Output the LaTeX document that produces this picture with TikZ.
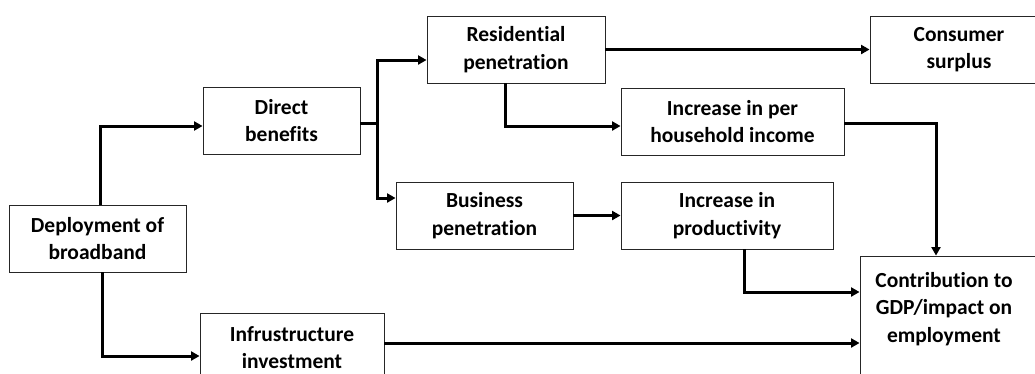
\documentclass[tikz,border=0pt]{standalone}
\usepackage{fontspec}
\setmainfont{Carlito}[Ligatures={NoCommon,NoContextual}]
\usetikzlibrary{arrows.meta}
\begin{document}
\begin{tikzpicture}[x=1pt,y=-1pt,
  box/.style={draw=black!85, line width=0.9pt, align=center, inner sep=0pt,
    font=\fontsize{21.5}{27.5}\selectfont\bfseries},
  arr/.style={line width=3pt, -{Triangle[length=8.5pt,width=9pt]}},
  lnk/.style={line width=3pt}]
\useasboundingbox[fill=white] (0,0) rectangle (1035,373);
\clip (0,0) rectangle (1035,373);

% boxes
\node[box, minimum width=177pt, minimum height=67pt] (dep) at (97.5,238.5) {Deployment of\\broadband};
\node[box, minimum width=157pt, minimum height=67pt] (dir) at (281.5,120.5) {Direct\\benefits};
\node[box, minimum width=178pt, minimum height=67pt] (res) at (516,49.5) {Residential\\penetration};
\node[box, minimum width=178pt, minimum height=67pt] (con) at (959,49.5) {Consumer\\surplus};
\node[box, minimum width=223pt, minimum height=67pt] (hh) at (732.5,121.5) {Increase in per\\household income};
\node[box, minimum width=177pt, minimum height=67pt] (bus) at (484.5,215.5) {Business\\penetration};
\node[box, minimum width=212pt, minimum height=67pt] (pro) at (727,215.5) {Increase in\\productivity};
\node[box, minimum width=184pt, minimum height=74pt] (inf) at (292,350) {};
\node[box, draw=none] (inftext) at (292,347.5) {Infrustructure\\investment};
\node[box, minimum width=180pt, minimum height=144pt] (gdp) at (950,328) {};
\node[box, draw=none] (gdptext) at (944,309) {Contribution to\\GDP/impact on\\employment};

% connectors
\draw[arr] ([xshift=2.5pt]dep.north) |- ([yshift=-5.5pt]dir.west);
\draw[arr] ([xshift=4.5pt]dep.south) |- ([yshift=-6pt]inf.west);
\draw[lnk] ([yshift=-2.5pt]dir.east) -- ++(17,0) coordinate (split);
\draw[arr] ([yshift=-2.5pt]split) |- ([yshift=-10.5pt]res.west);
\draw[arr] ([yshift=2.5pt]split) |- ([yshift=17.5pt]bus.west);
\draw[arr] (res.east) -- (con.west);
\draw[arr] ([xshift=-11pt]res.south) |- ([yshift=-4.5pt]hh.west);
\draw[arr] ([yshift=-1.5pt]hh.east) -| ([xshift=-14pt]gdp.north);
\draw[arr] (bus.east) -- (pro.west);
\draw[arr] ([xshift=17pt]pro.south) |- ([yshift=36pt]gdp.west);
\draw[arr] ([yshift=7pt]inf.east) coordinate (ie) -- (ie -| gdp.west);
\end{tikzpicture}
\end{document}
